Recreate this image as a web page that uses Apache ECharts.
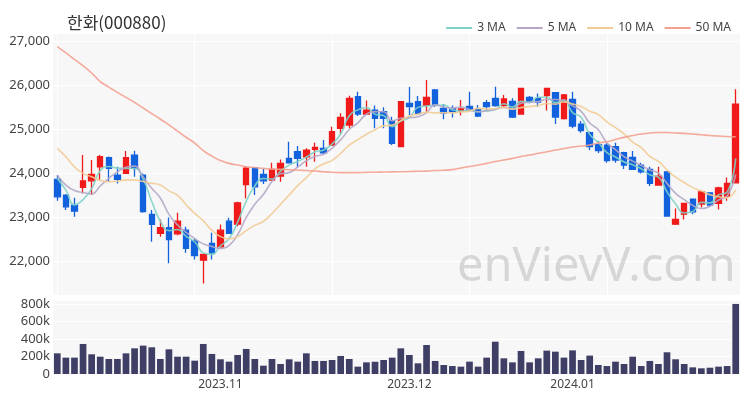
<!DOCTYPE html>
<html><head><meta charset="utf-8">
<script src="https://cdn.jsdelivr.net/npm/echarts@6/dist/echarts.min.js"></script>
<style>html,body{margin:0;padding:0;background:#fff}#c{width:750px;height:400px}</style>
</head><body><div id="c"></div>
<script>
const dates = [
'2023.10.04','2023.10.05','2023.10.06','2023.10.10','2023.10.11','2023.10.12','2023.10.13','2023.10.16','2023.10.17','2023.10.18','2023.10.19','2023.10.20','2023.10.23','2023.10.24','2023.10.25','2023.10.26','2023.10.27','2023.10.30','2023.10.31',
'2023.11.01','2023.11.02','2023.11.03','2023.11.06','2023.11.07','2023.11.08','2023.11.09','2023.11.10','2023.11.13','2023.11.14','2023.11.15','2023.11.16','2023.11.17','2023.11.20','2023.11.21','2023.11.22','2023.11.23','2023.11.24','2023.11.27','2023.11.28','2023.11.29','2023.11.30',
'2023.12.01','2023.12.04','2023.12.05','2023.12.06','2023.12.07','2023.12.08','2023.12.11','2023.12.12','2023.12.13','2023.12.14','2023.12.15','2023.12.18','2023.12.19','2023.12.20','2023.12.21','2023.12.22','2023.12.26','2023.12.27','2023.12.28',
'2024.01.02','2024.01.03','2024.01.04','2024.01.05','2024.01.08','2024.01.09','2024.01.10','2024.01.11','2024.01.12','2024.01.15','2024.01.16','2024.01.17','2024.01.18','2024.01.19','2024.01.22','2024.01.23','2024.01.24','2024.01.25','2024.01.26','2024.01.29'];

const opens = [23864,23508,23281,23683,23832,24150,24354,23961,24000,24415,23961,23070,22639,22771,22630,22714,22472,22034,22413,22336,
22918,22850,23746,24127,23977,23848,23939,24340,24490,24377,24544,24567,24642,25020,25095,25737,25345,25435,25397,25186,
24604,25587,25624,25549,25889,25474,25474,25413,25515,25451,25601,25701,25537,25628,25345,25723,25701,25760,25828,25243,
25678,25118,24925,24653,24642,24604,24468,24363,24188,24091,23735,24036,22850,23077,23417,23304,23560,23320,23485,23787];
const closes = [23469,23243,23145,23832,23977,24377,24113,23864,24354,24113,23134,22843,22771,22499,22918,22299,22136,22163,22200,22714,
22639,23333,24120,23696,23832,24091,24227,24241,24340,24528,24590,24467,24943,25270,25701,25345,25435,25247,25247,24680,
25624,25510,25352,25723,25549,25374,25397,25458,25435,25299,25510,25537,25685,25277,25927,25624,25617,25927,25277,25776,
25073,24970,24608,24517,24290,24302,24188,24091,24036,23773,23939,23032,22957,23320,23129,23583,23281,23673,23773,25571];
const lows = [23379,23168,23016,23547,23508,23848,23810,23773,23984,23923,23107,22453,22567,21966,22600,22200,22050,21506,22050,22299,
22624,22805,23433,23508,23757,23832,23810,24227,24136,24150,24263,24415,24619,24891,25020,25300,25322,25020,25020,24642,
24604,25322,25322,25397,25503,25224,25265,25311,25397,25277,25435,25510,25481,25254,25345,25587,25510,25424,25118,25220,
25020,24921,24528,24460,24241,24241,24100,24075,24000,23712,23723,23016,22828,22957,23077,23229,23243,23184,23379,23773];
const highs = [23961,23530,23447,24415,24302,24415,24380,24150,24506,24512,24000,23168,22957,22998,23107,22789,22526,22170,22653,22843,
22993,23356,24150,24136,24097,24241,24317,24717,24619,24567,24694,24755,25057,25360,25760,25850,25650,25540,25497,25283,
25640,25957,25753,26116,25912,25571,25540,25662,25850,25549,25662,25964,25775,25701,25935,25753,25810,25935,25844,25798,
25850,25186,24943,24732,24680,24694,24490,24506,24240,24150,24150,24036,23206,23320,23433,23583,23560,23696,23909,25905];
const volumes = [236000,187000,187000,343000,225000,198000,171000,171000,236000,293000,324000,305000,171000,282000,198000,198000,152000,343000,229000,168000,
141000,217000,286000,171000,95000,171000,114000,168000,141000,236000,149000,149000,160000,206000,171000,84000,133000,140000,160000,187000,
293000,217000,122000,331000,149000,103000,91000,84000,141000,84000,187000,369000,179000,133000,263000,133000,179000,267000,255000,187000,
270000,160000,210000,103000,91000,141000,114000,198000,91000,149000,114000,248000,168000,114000,76000,65000,72000,84000,91000,800000];
// closes of the 9 sessions before the window (inferred from the MA lines at the left edge)
const priorCloses = [25153,25405,25332,24747,25228,24378,23766,24041,24151];
const ma50 = [26871,26728,26580,26433,26274,26080,25955,25834,25721,25608,25481,25354,25227,25097,24959,24819,24687,24517,24392,24290,
24227,24188,24150,24132,24113,24097,24091,24082,24075,24064,24053,24037,24025,24018,24018,24018,24023,24025,24030,24034,
24037,24041,24048,24052,24064,24070,24086,24120,24154,24188,24227,24268,24302,24340,24381,24415,24454,24490,24528,24562,
24596,24619,24642,24687,24717,24766,24816,24857,24891,24914,24925,24925,24914,24907,24891,24875,24857,24846,24834,24830];
const maNames = ['3 MA','5 MA','10 MA','50 MA'];
const maColors = ['#7fd2c7','#b5a7c8','#f2cb95','#f4a08f'];

const allCloses = priorCloses.concat(closes);
function movingAvg(n){
  return closes.map((c,i)=>{
    const j = i + priorCloses.length;
    let s = 0; for(let k=j-n+1;k<=j;k++) s += allCloses[k];
    return Math.round(s/n);
  });
}
const ohlc = opens.map((o,i)=>[o, closes[i], lows[i], highs[i]]);
const maData = [movingAvg(3), movingAvg(5), movingAvg(10), ma50];

const chart = echarts.init(document.getElementById('c'), null, {renderer:'canvas'});
const FONT = '"Noto Sans", "Noto Sans CJK KR", sans-serif';
const monthStart = (idx) => idx > 0 && dates[idx].slice(0,7) !== dates[idx-1].slice(0,7);

chart.setOption({
  animation:false,
  textStyle:{fontFamily:FONT},
  title:{text:'한화(000880)', left:62, top:9, textStyle:{fontSize:17, fontWeight:'normal', color:'#333', fontFamily:'"Noto Sans CJK KR", sans-serif'}},
  legend:{data:maNames.map(n=>({name:n, icon:'rect'})), right:14, top:17, itemWidth:26, itemHeight:2, itemGap:11,
    textStyle:{fontSize:12, color:'#444'}},
  graphic:[{type:'text', left:457, top:244, z:100, silent:true,
    style:{text:'enVievV.com', font:'47px "Noto Sans", sans-serif', fill:'rgba(140,140,140,0.3)'}}],
  grid:[
    {left:53, right:10, top:33, height:262, show:true, backgroundColor:'#f7f7f7', borderWidth:0},
    {left:53, right:10, top:300, height:74, show:true, backgroundColor:'#f7f7f7', borderWidth:0}
  ],
  xAxis:[
    {type:'category', gridIndex:0, data:dates, boundaryGap:true,
     axisLine:{show:false}, axisTick:{show:false}, axisLabel:{show:false},
     splitLine:{show:true, interval:15, alignWithLabel:true, lineStyle:{color:'#ffffff', width:1}}},
    {type:'category', gridIndex:1, data:dates, boundaryGap:true,
     axisLine:{show:false}, axisTick:{show:false},
     axisLabel:{interval:(idx)=>monthStart(idx), formatter:(v)=>v.slice(0,7), color:'#444', fontSize:12, margin:5},
     splitLine:{show:false}}
  ],
  yAxis:[
    {type:'value', gridIndex:0, min:21245, max:27180, splitNumber:5, scale:true,
     axisLine:{show:false}, axisTick:{show:false},
     axisLabel:{color:'#444', fontSize:13, margin:3, showMinLabel:false, showMaxLabel:false,
       formatter:(v)=>v.toLocaleString('en-US')},
     splitLine:{show:true, lineStyle:{color:'#ffffff', width:1}}},
    {type:'value', gridIndex:1, min:0, max:845000, interval:200000,
     axisLine:{show:false}, axisTick:{show:false},
     axisLabel:{color:'#444', fontSize:13, margin:3, showMaxLabel:false,
       formatter:(v)=> v===0 ? '0' : (v/1000)+'k'},
     splitLine:{show:true, lineStyle:{color:'#ffffff', width:1}}}
  ],
  series:[
    {type:'candlestick', name:'price', xAxisIndex:0, yAxisIndex:0, data:ohlc, barWidth:6,
     itemStyle:{color:'#f01a1a', color0:'#1262de', borderColor:'#f01a1a', borderColor0:'#1262de', borderWidth:1.3}},
    ...maNames.map((n,k)=>({type:'line', name:n, xAxisIndex:0, yAxisIndex:0, data:maData[k],
      symbol:'none', smooth:true, z:3, lineStyle:{width:1.6, color:maColors[k], opacity:0.9}, itemStyle:{color:maColors[k]}})),
    {type:'bar', name:'volume', xAxisIndex:1, yAxisIndex:1, data:volumes, barWidth:'78%',
     itemStyle:{color:'#3f3f66'}}
  ]
});
</script></body></html>
